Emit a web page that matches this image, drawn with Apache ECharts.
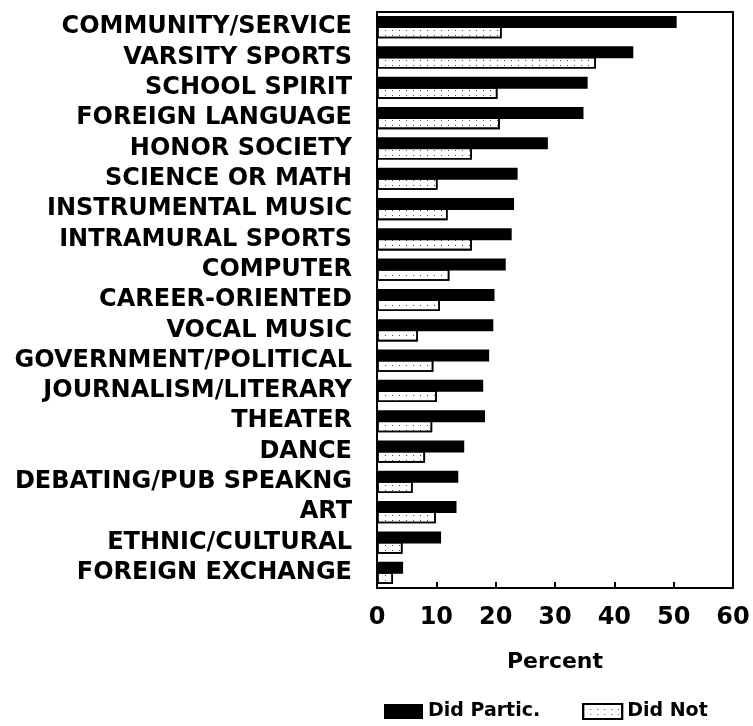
<!DOCTYPE html>
<html>
<head>
<meta charset="utf-8">
<script src="https://cdn.jsdelivr.net/npm/echarts@6/dist/echarts.min.js"></script>
<style>html,body{margin:0;padding:0;background:#fff;}#c{width:753px;height:726px;}</style>
</head>
<body>
<div id="c"></div>
<script>
const categories = [
  'COMMUNITY/SERVICE','VARSITY SPORTS','SCHOOL SPIRIT','FOREIGN LANGUAGE','HONOR SOCIETY',
  'SCIENCE OR MATH','INSTRUMENTAL MUSIC','INTRAMURAL SPORTS','COMPUTER','CAREER-ORIENTED',
  'VOCAL MUSIC','GOVERNMENT/POLITICAL','JOURNALISM/LITERARY','THEATER','DANCE',
  'DEBATING/PUB SPEAKNG','ART','ETHNIC/CULTURAL','FOREIGN EXCHANGE'
];
const didPartic = [50.5, 43.2, 35.5, 34.8, 28.8, 23.7, 23.1, 22.7, 21.7, 19.8, 19.6, 18.9, 17.9, 18.2, 14.7, 13.7, 13.4, 10.8, 4.4];
const didNot    = [21.0, 36.9, 20.3, 20.7, 16.0, 10.2, 11.9, 16.0, 12.2, 10.6, 6.9, 9.5, 10.1, 9.3, 8.1, 6.0, 9.9, 4.3, 2.7];
const xTicks = [0, 10, 20, 30, 40, 50, 60];

const FONT = 'DejaVu Sans';
const chart = echarts.init(document.getElementById('c'), null, {renderer: 'canvas'});
chart.setOption({
  backgroundColor: '#fff',
  animation: false,
  grid: {left: 377, right: 20, top: 12, bottom: 138, show: true, borderColor: '#000', borderWidth: 2, backgroundColor: 'transparent'},
  legend: {
    data: ['Did Partic.', 'Did Not'],
    left: 379, top: 697, icon: 'rect',
    itemWidth: 39, itemHeight: 15, itemGap: 42,
    textStyle: {fontFamily: FONT, fontWeight: 'bold', fontSize: 19, color: '#000'}
  },
  xAxis: {
    type: 'value', min: xTicks[0], max: xTicks[xTicks.length - 1], interval: 10,
    name: 'Percent', nameLocation: 'middle', nameGap: 63,
    nameTextStyle: {fontFamily: FONT, fontWeight: 'bold', fontSize: 22, color: '#000'},
    axisLine: {show: true, lineStyle: {color: '#000', width: 2}},
    axisTick: {show: true, inside: true, length: 6, lineStyle: {color: '#000', width: 2}},
    axisLabel: {fontFamily: FONT, fontWeight: 'bold', fontSize: 24, color: '#000', margin: 18},
    splitLine: {show: false}
  },
  yAxis: {
    type: 'category', data: categories, inverse: true,
    axisLine: {show: true, lineStyle: {color: '#000', width: 2}},
    axisTick: {show: false},
    axisLabel: {interval: 0, fontFamily: FONT, fontWeight: 'bold', fontSize: 24, color: '#000', margin: 25}
  },
  series: [
    {
      name: 'Did Partic.', type: 'bar', data: didPartic,
      barWidth: 12, barGap: '-15%', z: 3,
      itemStyle: {color: '#000', borderColor: '#000', borderWidth: 0}
    },
    {
      name: 'Did Not', type: 'bar', data: didNot,
      barWidth: 12, z: 2,
      itemStyle: {
        color: '#fff', borderColor: '#000', borderWidth: 1.6,
        decal: {symbol: 'rect', symbolSize: 1, color: '#444', dashArrayX: [1, 6], dashArrayY: [1, 4], rotation: 0}
      }
    }
  ]
});
</script>
</body>
</html>
